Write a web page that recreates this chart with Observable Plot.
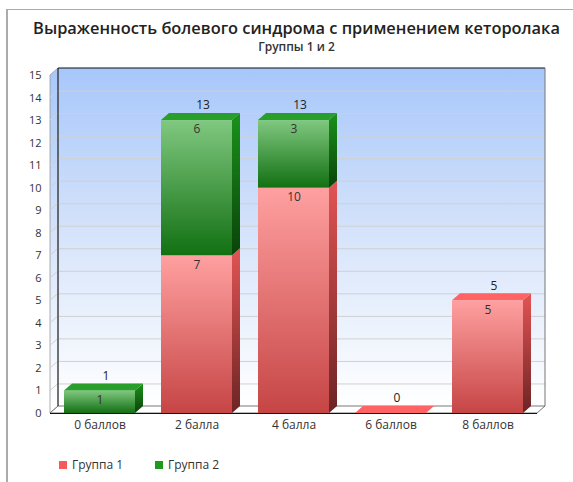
<!DOCTYPE html>
<html><head><meta charset="utf-8">
<script src="https://cdn.jsdelivr.net/npm/d3@7"></script>
<script src="https://cdn.jsdelivr.net/npm/@observablehq/plot@0.6"></script>
<style>
body{margin:0;background:#fff;font-family:"Open Sans",sans-serif;}
#wrap{position:relative;width:573px;height:482px;overflow:hidden;background:#fff;}
#frameL{position:absolute;left:6px;top:9px;width:2px;height:473px;background:#ababab;}
#frameT{position:absolute;left:6px;top:9px;width:567px;height:1px;background:#ababab;}
#title{position:absolute;left:0;width:593px;top:16px;text-align:center;font-size:16.4px;font-weight:600;color:#222;white-space:nowrap;}
#subtitle{position:absolute;left:0;width:593px;top:38px;text-align:center;font-size:12px;font-weight:600;color:#333;}
#chart{position:absolute;left:0;top:56px;}
#legend{position:absolute;top:456px;left:59px;font-size:12px;color:#333;}
.li{position:absolute;top:0;white-space:nowrap;}
.sw{display:inline-block;width:8px;height:8px;margin-right:5px;vertical-align:0px;}
g[aria-label^="x-axis"] text{font-size:12px;}
g[aria-label^="y-axis"] text{font-size:11px;}
</style></head>
<body>
<div id="wrap">
  <div id="frameL"></div><div id="frameT"></div>
  <div id="title">Выраженность болевого синдрома с применением кеторолака</div>
  <div id="subtitle">Группы 1 и 2</div>
  <div id="chart"></div>
  <div id="legend"></div>
</div>
<script>
const categories = ["0 баллов", "2 балла", "4 балла", "6 баллов", "8 баллов"];
const group1 = [0, 7, 10, 0, 5];
const group2 = [1, 6, 3, 0, 0];
const seriesNames = ["Группа 1", "Группа 2"];
const seriesColors = ["#f45a5a", "#1f9a1f"];
const yTicks = [0, 1, 2, 3, 4, 5, 6, 7, 8, 9, 10, 11, 12, 13, 14, 15];

// stacked segments
const segments = [];
categories.forEach((c, i) => {
  segments.push({cat: c, series: 0, value: group1[i], y1: 0, y2: group1[i]});
  segments.push({cat: c, series: 1, value: group2[i], y1: group1[i], y2: group1[i] + group2[i]});
});
const totals = categories.map((c, i) => ({cat: c, total: group1[i] + group2[i]}));

const DX = 8, DY = 7, INSET = 13;

function defsMark() {
  const g = d3.create("svg:g");
  const defs = g.append("defs");
  const grad = (id, stops) => {
    const lg = defs.append("linearGradient").attr("id", id).attr("x1", 0).attr("y1", 0).attr("x2", 0).attr("y2", 1);
    stops.forEach(([o, c]) => lg.append("stop").attr("offset", o).attr("stop-color", c));
  };
  grad("gWall", [[0, "#a7c7fa"], [0.55, "#dbe7fb"], [1, "#ffffff"]]);
  grad("gRed", [[0, "#ffa0a0"], [1, "#c64545"]]);
  grad("gGreen", [[0, "#80c880"], [1, "#127012"]]);
  grad("gRedSide", [[0, "#e25454"], [1, "#6c2424"]]);
  grad("gGreenSide", [[0, "#1a921a"], [1, "#0a420a"]]);
  return g.node();
}

function wallMark(index, scales, values, dims) {
  const x0 = dims.marginLeft, x1 = dims.width - dims.marginRight;
  const yT = scales.y(15), yB = scales.y(0);
  const g = d3.create("svg:g");
  g.append("rect").attr("x", x0 + DX).attr("y", yT - DY).attr("width", x1 - x0).attr("height", yB - yT)
    .attr("fill", "url(#gWall)");
  g.append("path").attr("d", `M${x0},${yT}L${x0 + DX},${yT - DY}L${x0 + DX},${yB - DY}L${x0},${yB}Z`)
    .attr("fill", "url(#gWall)").attr("stroke", "#9a9a9a").attr("stroke-width", 0.8);
  yTicks.filter(v => v > 0 && v < 15).forEach(v => {
    g.append("line").attr("x1", x0).attr("y1", scales.y(v)).attr("x2", x0 + DX).attr("y2", scales.y(v) - DY)
      .attr("stroke", "#d0d0d0");
  });
  return g.node();
}

function wallBorderMark(index, scales, values, dims) {
  const x0 = dims.marginLeft, x1 = dims.width - dims.marginRight;
  const yT = scales.y(15), yB = scales.y(0);
  const g = d3.create("svg:g");
  g.append("path").attr("d", `M${x0},${yB}L${x0 + DX},${yB - DY}L${x1 + DX},${yB - DY}L${x1},${yB}Z`)
    .attr("fill", "#ffffff").attr("stroke", "#555").attr("stroke-width", 0.8);
  g.append("line").attr("x1", x0).attr("x2", x1).attr("y1", yB + 0.5).attr("y2", yB + 0.5).attr("stroke", "#111");
  g.append("path").attr("d", `M${x0 + DX},${yB - DY}V${yT - DY}H${x1 + DX}`).attr("fill", "none")
    .attr("stroke", "#111").attr("stroke-width", 1);
  g.append("line").attr("x1", x1 + DX).attr("x2", x1 + DX).attr("y1", yT - DY).attr("y2", yB - DY)
    .attr("stroke", "#777").attr("stroke-width", 1);
  return g.node();
}

function facesMark(index, scales) {
  const bw = scales.x.bandwidth();
  const g = d3.create("svg:g");
  categories.forEach((c, i) => {
    const xa = scales.x(c) + INSET, xb = scales.x(c) + bw - INSET;
    const segs = segments.filter(s => s.cat === c && s.value > 0);
    segs.forEach(s => {
      const yt = scales.y(s.y2), yb = scales.y(s.y1);
      g.append("path").attr("d", `M${xb},${yt}L${xb + DX},${yt - DY}L${xb + DX},${yb - DY}L${xb},${yb}Z`)
        .attr("fill", s.series === 0 ? "url(#gRedSide)" : "url(#gGreenSide)");
    });
    const top = segs.length ? segs[segs.length - 1] : {series: 0, y2: 0};
    const yt = scales.y(top.y2);
    g.append("path").attr("d", `M${xa},${yt}L${xa + DX},${yt - DY}L${xb + DX},${yt - DY}L${xb},${yt}Z`)
      .attr("fill", top.series === 0 ? "#ff6363" : "#2a9e2a");
  });
  return g.node();
}

const chart = Plot.plot({
  width: 573,
  height: 384,
  marginLeft: 50,
  marginRight: 36,
  marginTop: 19,
  marginBottom: 27,
  style: {fontFamily: "'Open Sans', sans-serif", overflow: "visible", background: "transparent", color: "#333"},
  x: {domain: categories, padding: 0, tickSize: 0, tickPadding: 7, label: null},
  y: {domain: [0, 15], ticks: yTicks, tickSize: 0, tickPadding: 9, label: null},
  marks: [
    defsMark,
    wallMark,
    Plot.ruleY(yTicks.filter(v => v > 0 && v < 15), {dx: DX, dy: -DY, stroke: "#d0d0d0", strokeOpacity: 1}),
    wallBorderMark,
    Plot.barY(segments.filter(s => s.series === 0 && s.value > 0), {x: "cat", y1: "y1", y2: "y2", fill: "url(#gRed)", insetLeft: INSET, insetRight: INSET}),
    Plot.barY(segments.filter(s => s.series === 1 && s.value > 0), {x: "cat", y1: "y1", y2: "y2", fill: "url(#gGreen)", insetLeft: INSET, insetRight: INSET}),
    facesMark,
    Plot.text(segments.filter(s => s.value > 0), {x: "cat", y: "y2", text: d => String(d.value), dy: 9, fontSize: 12, fill: "#333"}),
    Plot.text(totals, {x: "cat", y: "total", text: d => String(d.total), dy: -15, dx: 6, fontSize: 12, fill: "#222"})
  ]
});
document.getElementById("chart").appendChild(chart);

const legend = document.getElementById("legend");
const legendX = [0, 96];
seriesNames.forEach((n, i) => {
  const d = document.createElement("div");
  d.className = "li";
  d.style.left = legendX[i] + "px";
  d.innerHTML = `<span class="sw" style="background:${seriesColors[i]}"></span>${n}`;
  legend.appendChild(d);
});
</script>
</body></html>
